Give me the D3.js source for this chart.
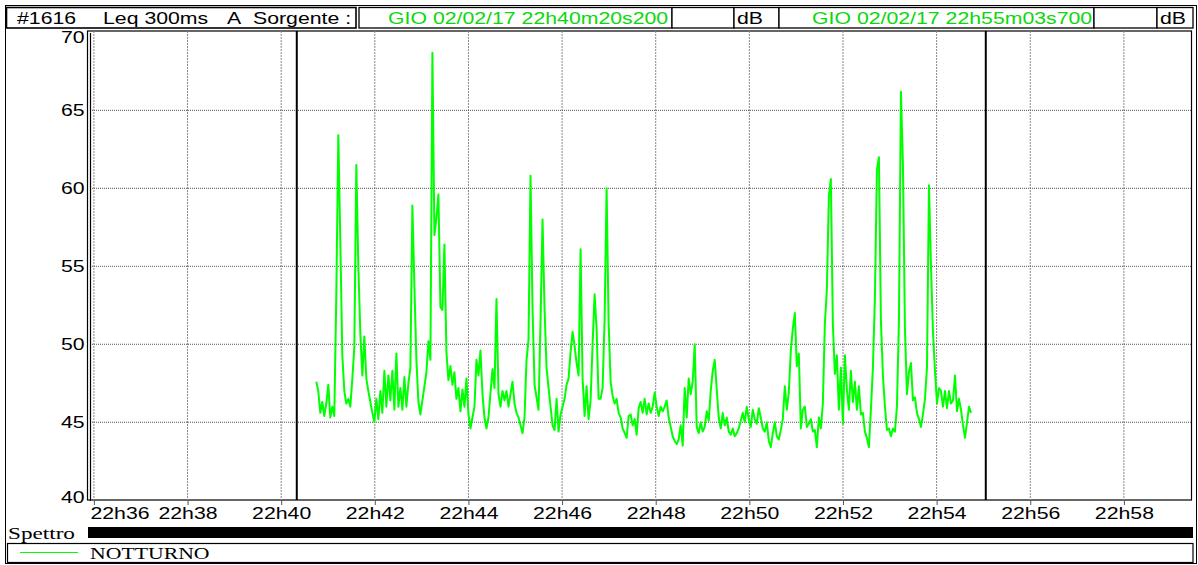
<!DOCTYPE html>
<html>
<head>
<meta charset="utf-8">
<script src="https://cdn.jsdelivr.net/npm/d3@7"></script>
<style>
  html, body { margin: 0; padding: 0; background: #fff; }
  svg { display: block; }
</style>
</head>
<body>
<svg id="chart" width="1198" height="565"></svg>
<script>
// ---- data ----
const instrumentId = '#1616';
const headerParts = ['Leq 300ms', 'A', 'Sorgente :'];
const cursorLabels = ['GIO 02/02/17 22h40m20s200', 'GIO 02/02/17 22h55m03s700'];
const cursorTimes = ['22:40:20.2', '22:55:03.7'];
const unitLabel = 'dB';
const seriesName = 'NOTTURNO';
const spectrumLabel = 'Spettro';

const viewStart = '22:35:55';
const viewEnd = '22:59:26';
const xTickTimes = ['22:36', '22:38', '22:40', '22:42', '22:44', '22:46', '22:48', '22:50', '22:52', '22:54', '22:56', '22:58'];
const yTicks = [40, 45, 50, 55, 60, 65, 70];

const seriesStart = '22:40:45';
const stepSeconds = 2.566;
// Leq readings (dB)
const levels = [
  47.6, 47.0, 45.6, 46.3, 45.4, 46.2, 47.4, 45.3, 46.0, 45.4,
  53.2, 63.4, 56.6, 49.3, 47.0, 46.2, 46.5, 46.0, 47.8, 49.8,
  61.5, 55.0, 50.7, 48.0, 50.5, 47.8, 47.0, 46.3, 45.6, 45.0,
  46.5, 45.2, 47.0, 45.6, 48.3, 46.0, 48.0, 46.4, 48.3, 45.8,
  49.4, 46.0, 47.2, 45.8, 47.9, 46.0, 47.5, 48.5, 58.9, 53.7,
  49.0, 46.3, 45.5, 46.4, 47.3, 48.2, 50.2, 49.0, 68.7, 57.0,
  58.1, 59.6, 52.4, 52.2, 56.4, 49.5, 47.7, 48.6, 47.4, 48.2,
  46.5, 47.2, 45.7, 47.1, 46.0, 47.8, 45.5, 44.6, 45.3, 46.0,

  49.0, 48.0, 49.6, 46.8, 45.3, 44.6, 45.3, 46.9, 48.4, 47.2,
  52.9, 46.8, 46.0, 47.0, 46.4, 47.0, 46.0, 46.8, 47.6, 46.2,
  45.6, 45.3, 44.8, 44.3, 45.3, 49.0, 50.3, 60.8, 52.3, 47.4,
  46.6, 45.8, 51.5, 58.0, 52.3, 48.5, 47.2, 46.0, 44.8, 44.5,
  46.5, 44.4, 45.5, 46.0, 46.5, 47.4, 47.8, 49.5, 50.8, 49.9,
  48.8, 48.0, 56.1, 47.8, 45.4, 47.3, 45.2, 46.4, 50.0, 53.2,
  51.0, 46.5, 46.5, 47.2, 51.6, 60.0, 51.4, 47.6, 46.7, 46.2,
  46.5, 45.6, 45.3, 44.6, 44.3, 44.0, 45.4, 45.5, 44.8, 45.2,
  44.2, 45.9,

  46.3, 45.6, 46.5, 45.5, 46.2, 45.6, 46.0, 46.9, 46.0, 45.4,
  46.0, 45.7, 46.0, 46.4, 45.3, 44.7, 44.1, 43.8, 43.6, 43.9,
  44.8, 43.5, 47.2, 45.3, 47.8, 46.8, 47.6, 50.0, 44.7, 44.3,
  45.0, 44.4, 44.7, 45.7, 45.1, 47.0, 48.3, 49.0, 47.1, 45.3,
  44.6, 45.6, 44.8, 45.3, 44.4, 44.2, 44.6, 44.1, 44.3, 44.6,
  45.1, 45.6, 45.0, 46.0, 45.2, 44.7, 45.8, 45.2, 44.9, 45.9,
  45.3, 44.6, 44.4, 45.0, 43.8, 43.4, 44.3, 45.0, 44.1, 43.9,
  44.5, 45.2, 47.3, 45.8, 46.9, 49.6, 51.0, 52.0, 48.6, 49.4,
  44.6, 45.8, 46.0,

  44.7, 44.9, 45.2, 44.4, 44.5, 43.4, 45.3, 44.6, 46.2, 51.3,
  53.5, 59.5, 60.6, 51.3, 48.1, 49.3, 45.8, 48.5, 44.9, 49.3,
  47.1, 45.8, 48.3, 46.3, 47.6, 45.8, 47.3, 45.5, 45.6, 44.4,
  44.0, 43.4, 45.8, 48.5, 53.0, 61.2, 62.0, 51.5, 48.0, 46.0,
  44.5, 44.6, 44.1, 44.6, 44.4, 46.0, 51.5, 66.2, 61.5, 51.0,
  46.8, 48.2, 48.8, 46.4, 46.6, 45.6, 45.2, 44.7, 45.5, 46.5,
  48.5, 60.2, 55.0, 50.8, 48.3, 46.2, 47.2, 47.0, 46.0, 47.0,
  45.9, 47.0, 46.2, 46.4, 48.0, 45.7, 46.5, 45.8, 44.8, 44.0,
  45.0, 46.0, 45.6
];

// ---- layout ----
const FONT_SANS = '"Liberation Sans", Arial, sans-serif';
const FONT_SERIF = '"Liberation Serif", "Times New Roman", serif';
const STRETCH = 1.33;
const LINE_GREEN = '#00ff00';
const TEXT_GREEN = '#0ad80a';
const plot = { left: 90, right: 1191, top: 31, bottom: 500 };

const parseT = d3.utcParse('%H:%M:%S');
const parseTms = d3.utcParse('%H:%M:%S.%L');
const parseHM = d3.utcParse('%H:%M');

const svg = d3.select('#chart');

// stretched text, like the original wide rendering
function stretchedText(parent, x, y, str, opts = {}) {
  return parent.append('text')
    .attr('transform', `translate(${x},${y}) scale(${opts.stretch || STRETCH},1)`)
    .attr('text-anchor', opts.anchor || 'start')
    .attr('font-family', opts.font || FONT_SANS)
    .attr('font-size', opts.size || 16)
    .attr('fill', opts.fill || '#000')
    .text(str);
}

// ==== scales ====
const x = d3.scaleUtc()
  .domain([parseT(viewStart), parseT(viewEnd)])
  .range([plot.left, plot.right]);

const y = d3.scaleLinear()
  .domain([40, 70])
  .range([500.2, 32.4]);

// ==== outer frame ====
svg.append('rect')
  .attr('x', 5.5).attr('y', 5.5)
  .attr('width', 1191).attr('height', 558)
  .attr('fill', 'none').attr('stroke', '#000').attr('stroke-width', 1);

// ==== header ====
const header = svg.append('g');
const boxTop = 7.5, boxH = 20.5;
const boxes = [
  { x0: 6.5, x1: 356 },
  { x0: 359, x1: 672, green: 0 },
  { x0: 672, x1: 734 },
  { x0: 734, x1: 779, unit: true },
  { x0: 779, x1: 1094, green: 1 },
  { x0: 1094, x1: 1157 },
  { x0: 1157, x1: 1193, unit: true }
];

const defs = svg.append('defs');
boxes.forEach((b, i) => {
  header.append('rect')
    .attr('x', b.x0).attr('y', boxTop)
    .attr('width', b.x1 - b.x0).attr('height', boxH)
    .attr('fill', '#fff').attr('stroke', '#000')
    .attr('stroke-width', i === 0 ? 1.6 : 1.3);
  if (b.green !== undefined) {
    defs.append('clipPath').attr('id', 'clip-box-' + i)
      .append('rect')
      .attr('x', b.x0).attr('y', boxTop)
      .attr('width', b.x1 - b.x0 - 1).attr('height', boxH);
    const gx = b.green === 0 ? 388 : 812;
    stretchedText(header.append('g').attr('clip-path', `url(#clip-box-${i})`), gx, 23.5, cursorLabels[b.green], { fill: TEXT_GREEN });
  }
  if (b.unit) {
    stretchedText(header, b.x0 + 3, 23.5, unitLabel);
  }
});

stretchedText(header, 17, 23.5, instrumentId);
stretchedText(header, 103, 23.5, headerParts[0]);
stretchedText(header, 227, 23.5, headerParts[1]);
stretchedText(header, 253, 23.5, headerParts[2]);

// ==== plot area ====
const g = svg.append('g');

g.append('rect')
  .attr('x', plot.left - 2.5).attr('y', plot.top)
  .attr('width', plot.right - plot.left + 3).attr('height', plot.bottom - plot.top)
  .attr('fill', '#fff').attr('stroke', '#000').attr('stroke-width', 1.2);

// grid
const xTicks = xTickTimes.map(parseHM);
g.append('g').attr('class', 'grid-x')
  .selectAll('line')
  .data(xTicks)
  .enter().append('line')
  .attr('x1', d => x(d)).attr('x2', d => x(d))
  .attr('y1', plot.top).attr('y2', plot.bottom)
  .attr('stroke', '#888').attr('stroke-width', 1)
  .attr('stroke-dasharray', '2,1');

g.append('g').attr('class', 'grid-y')
  .selectAll('line')
  .data(yTicks.filter(v => v > 40 && v < 70))
  .enter().append('line')
  .attr('x1', plot.left).attr('x2', plot.right)
  .attr('y1', d => y(d)).attr('y2', d => y(d))
  .attr('stroke', '#555').attr('stroke-width', 1)
  .attr('stroke-dasharray', '1,1');

// y axis
const yAxis = g.append('g')
  .attr('transform', `translate(${plot.left},0)`)
  .call(d3.axisLeft(y).tickValues(yTicks).tickSize(0).tickPadding(4));
yAxis.select('.domain').attr('stroke', '#000').attr('stroke-width', 1.2);
yAxis.selectAll('text')
  .attr('font-family', FONT_SANS)
  .attr('font-size', 16)
  .attr('fill', '#000')
  .attr('transform', `scale(${STRETCH},1)`);
yAxis.selectAll('.tick').filter(d => d === 70).select('text').attr('dy', '0.62em');
yAxis.selectAll('.tick').filter(d => d === 40).select('text').attr('dy', '0.15em');

// x axis
const xAxis = g.append('g')
  .attr('transform', `translate(0,${plot.bottom})`)
  .call(d3.axisBottom(x).tickValues(xTicks).tickSize(5).tickPadding(3)
    .tickFormat(d3.utcFormat('%Hh%M')));
xAxis.select('.domain').remove();
xAxis.selectAll('line').attr('stroke', '#555');
xAxis.selectAll('text')
  .attr('font-family', FONT_SANS)
  .attr('font-size', 16)
  .attr('fill', '#000')
  .attr('transform', `scale(${STRETCH},1)`);
xAxis.selectAll('.tick').filter((d, i) => i === 0).select('text')
  .attr('text-anchor', 'start').attr('x', -3);

// ==== series ====
const t0 = parseT(seriesStart).getTime();
const points = levels.map((v, i) => ({ t: new Date(t0 + i * stepSeconds * 1000), v }));

const line = d3.line()
  .x(d => x(d.t))
  .y(d => y(d.v));

g.append('path')
  .datum(points)
  .attr('d', line)
  .attr('fill', 'none')
  .attr('stroke', LINE_GREEN)
  .attr('stroke-width', 2)
  .attr('stroke-linejoin', 'round');

// ==== cursors ====
g.selectAll('.cursor')
  .data(cursorTimes.map(parseTms))
  .enter().append('line')
  .attr('class', 'cursor')
  .attr('x1', d => x(d)).attr('x2', d => x(d))
  .attr('y1', plot.top).attr('y2', plot.bottom)
  .attr('stroke', '#000').attr('stroke-width', 2);

// ==== spectrum bar ====
stretchedText(svg, 8, 538.5, spectrumLabel, { font: FONT_SERIF, stretch: 1.45 });
svg.append('rect')
  .attr('x', plot.left - 2).attr('y', 527)
  .attr('width', 1193 - plot.left + 2).attr('height', 11)
  .attr('fill', '#000');

// ==== legend ====
const legend = svg.append('g');
legend.append('rect')
  .attr('x', 7.5).attr('y', 543.5)
  .attr('width', 1185.5).attr('height', 19)
  .attr('fill', '#fff').attr('stroke', '#000').attr('stroke-width', 1.2);
legend.append('line')
  .attr('x1', 20).attr('x2', 78)
  .attr('y1', 552.5).attr('y2', 552.5)
  .attr('stroke', LINE_GREEN).attr('stroke-width', 1);
stretchedText(legend, 90, 558.5, seriesName, { font: FONT_SERIF, stretch: 1.36 });
</script>
</body>
</html>
